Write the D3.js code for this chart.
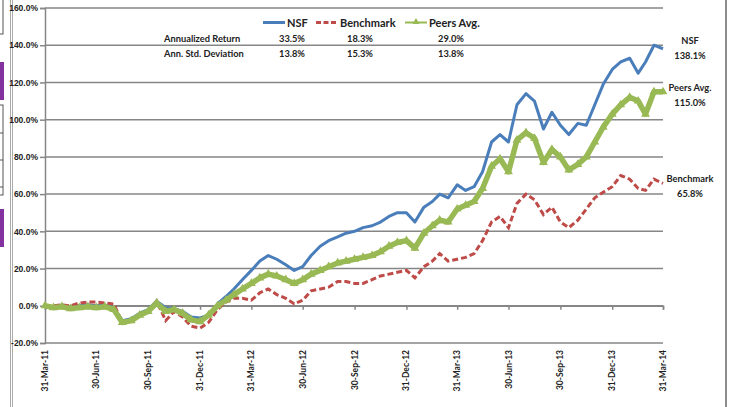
<!DOCTYPE html>
<html>
<head>
<meta charset="utf-8">
<script src="https://cdn.jsdelivr.net/npm/d3@7"></script>
<style>
  body { margin: 0; background: #fff; }
  svg { display: block; font-family: Lato, "Noto Sans", sans-serif; }
</style>
</head>
<body>
<svg id="chart" width="733" height="407"></svg>
<script>
// semimonthly observations
const dates = [
  '2011-03-31', '2011-04-15', '2011-04-30', '2011-05-15', '2011-05-31', '2011-06-15', '2011-06-30',
  '2011-07-15', '2011-07-31', '2011-08-15', '2011-08-31', '2011-09-15', '2011-09-30', '2011-10-15',
  '2011-10-31', '2011-11-15', '2011-11-30', '2011-12-15', '2011-12-31', '2012-01-15', '2012-01-31',
  '2012-02-15', '2012-02-29', '2012-03-15', '2012-03-31', '2012-04-15', '2012-04-30', '2012-05-15',
  '2012-05-31', '2012-06-15', '2012-06-30', '2012-07-15', '2012-07-31', '2012-08-15', '2012-08-31',
  '2012-09-15', '2012-09-30', '2012-10-15', '2012-10-31', '2012-11-15', '2012-11-30', '2012-12-15',
  '2012-12-31', '2013-01-15', '2013-01-31', '2013-02-15', '2013-02-28', '2013-03-15', '2013-03-31',
  '2013-04-15', '2013-04-30', '2013-05-15', '2013-05-31', '2013-06-15', '2013-06-30', '2013-07-15',
  '2013-07-31', '2013-08-15', '2013-08-31', '2013-09-15', '2013-09-30', '2013-10-15', '2013-10-31',
  '2013-11-15', '2013-11-30', '2013-12-15', '2013-12-31', '2014-01-15', '2014-01-31', '2014-02-15',
  '2014-02-28', '2014-03-15', '2014-03-31'
]

const nsf = [
  0, -0.5, 0.5, -1, 0, 0.5, 0, 0.5, -1, -8, -7, -4, -2, 2.5, -1, -1.5, -3, -6, -6.5, -5, 1,
  5, 9, 14, 19, 24, 27, 25, 22, 19, 21, 27, 32, 35, 37, 39, 40, 42, 43, 45, 48, 50,
  50, 45, 53, 56, 60, 58, 65, 62, 64, 72, 88, 92, 88, 108, 114, 110, 95, 104, 97, 92, 98,
  97, 108, 119, 127, 131, 133, 125, 131, 140, 138.1
]

const benchmark = [
  0, 0, 0.5, 0, 1.5, 2, 2, 1.5, 1, -9, -8, -5, -3, 2.5, -8, -3, -6, -11, -12, -9, -2,
  2, 4, 4, 3, 7, 9, 6, 4, 1, 3, 8, 9, 10, 13, 13, 12, 12, 14, 16, 17, 18,
  19, 15, 21, 24, 28, 24, 25, 26, 28, 35, 45, 48, 42, 55, 60, 57, 49, 53, 45, 42, 46,
  52, 58, 61, 64, 70, 68, 63, 62, 68, 65.8
]

const peers = [
  0, -1, -0.5, -1.5, -1, -0.5, -1, -0.5, -2, -9, -8, -5, -3, 1.5, -3, -2, -4, -7.5, -8.5, -5, 0,
  3, 6, 9, 12, 15, 17, 16, 14, 12, 14, 17, 19, 21, 23, 24, 25, 26, 27, 29, 32, 34,
  35, 31, 39, 43, 46, 45, 52, 54, 56, 63, 75, 79, 72, 89, 93, 90, 77, 84, 80, 73, 76,
  80, 88, 96, 103, 108, 112, 110, 103, 115, 115.0
]

const seriesNames = ['NSF', 'Benchmark', 'Peers Avg.']
const seriesColors = ['#4a7ebb', '#be4b48', '#98b954']
const annReturn = ['33.5%', '18.3%', '29.0%']
const annStdDev = ['13.8%', '15.3%', '13.8%']
const endLabels = ['138.1%', '65.8%', '115.0%']

const tickDates = [
  '2011-03-31', '2011-06-30', '2011-09-30', '2011-12-31', '2012-03-31', '2012-06-30', '2012-09-30',
  '2012-12-31', '2013-03-31', '2013-06-30', '2013-09-30', '2013-12-31', '2014-03-31'
]
const yTicks = [-20, 0, 20, 40, 60, 80, 100, 120, 140, 160]

const parse = d3.timeParse('%Y-%m-%d')
const svg = d3.select('#chart')
const grey = '#868686'

// page furniture around the chart
svg.append('rect').attr('x', -1).attr('y', -1).attr('width', 4).attr('height', 35)
  .attr('fill', '#fff').attr('stroke', '#555')
svg.append('rect').attr('x', 0).attr('y', 62).attr('width', 4).attr('height', 38).attr('fill', '#8431a0')
svg.append('rect').attr('x', -1).attr('y', 105).attr('width', 4).attr('height', 90)
  .attr('fill', '#fff').attr('stroke', '#555')
;[133, 160, 187].forEach(y => {
  svg.append('line').attr('x1', 0).attr('x2', 3).attr('y1', y).attr('y2', y).attr('stroke', '#555')
})
svg.append('rect').attr('x', 0).attr('y', 209).attr('width', 4).attr('height', 38).attr('fill', '#8431a0')
svg.append('line').attr('x1', 10.5).attr('x2', 10.5).attr('y1', 0).attr('y2', 407).attr('stroke', '#aaa')
svg.append('line').attr('x1', 12.5).attr('x2', 12.5).attr('y1', 0).attr('y2', 407).attr('stroke', '#aaa')
svg.append('line').attr('x1', 726).attr('x2', 726).attr('y1', 0).attr('y2', 407)
  .attr('stroke', '#8c8c8c').attr('stroke-width', 2)

const x = d3.scaleTime()
  .domain([parse('2011-03-31'), parse('2014-03-31')])
  .range([45, 663])
const y = d3.scaleLinear().domain([-20, 160]).range([343, 8])

// gridlines
svg.append('g').selectAll('line').data(yTicks).join('line')
  .attr('x1', 45).attr('x2', 663)
  .attr('y1', d => y(d)).attr('y2', d => y(d))
  .attr('stroke', grey).attr('stroke-width', 1.5)

// y axis
const yAxis = svg.append('g').attr('transform', 'translate(45,0)')
  .call(d3.axisLeft(y).tickValues(yTicks).tickSize(5).tickPadding(2)
    .tickFormat(d => d.toFixed(1) + '%'))
yAxis.select('.domain').attr('stroke', grey).attr('stroke-width', 1.5)
yAxis.selectAll('.tick line').attr('stroke', grey).attr('stroke-width', 1.5)
yAxis.selectAll('text').attr('font-size', 8.5).attr('font-weight', 'bold').attr('fill', '#222')

// x axis crosses at 0%, labels sit low
const xAxis = svg.append('g').attr('transform', `translate(0,${y(0)})`)
  .call(d3.axisBottom(x).tickValues(tickDates.map(parse)).tickSize(4).tickFormat(''))
xAxis.select('.domain').attr('stroke', grey).attr('stroke-width', 1.5)
xAxis.selectAll('.tick line').attr('stroke', grey).attr('stroke-width', 1.5)

const fmt = d3.timeFormat('%d-%b-%y')
svg.append('g').selectAll('text').data(tickDates.map(parse)).join('text')
  .attr('transform', d => `translate(${x(d) + 3},350) rotate(-90)`)
  .attr('text-anchor', 'end')
  .attr('font-size', 8.5).attr('font-weight', 'bold').attr('fill', '#222')
  .text(d => fmt(d))

// series
const pts = vals => vals.map((v, i) => [parse(dates[i]), v])
const line = d3.line().x(d => x(d[0])).y(d => y(d[1])).curve(d3.curveLinear)

svg.append('path').datum(pts(nsf))
  .attr('d', line).attr('fill', 'none')
  .attr('stroke', seriesColors[0]).attr('stroke-width', 3).attr('stroke-linejoin', 'round')

svg.append('path').datum(pts(benchmark))
  .attr('d', line).attr('fill', 'none')
  .attr('stroke', seriesColors[1]).attr('stroke-width', 3).attr('stroke-dasharray', '6,3')

svg.append('path').datum(pts(peers))
  .attr('d', line).attr('fill', 'none')
  .attr('stroke', seriesColors[2]).attr('stroke-width', 5.5).attr('stroke-linejoin', 'round')
svg.append('g').selectAll('path').data(pts(peers)).join('path')
  .attr('transform', d => `translate(${x(d[0])},${y(d[1])})`)
  .attr('d', d3.symbol(d3.symbolTriangle, 34))
  .attr('fill', seriesColors[2])

// legend
const legendX = [263, 316, 405]
const lg = svg.append('g')
seriesNames.forEach((name, i) => {
  const l = lg.append('line')
    .attr('x1', legendX[i]).attr('x2', legendX[i] + 22)
    .attr('y1', 22.5).attr('y2', 22.5)
    .attr('stroke', seriesColors[i]).attr('stroke-width', 3)
  if (i === 1) l.attr('stroke-dasharray', '5,2.5')
  if (i === 2) {
    l.attr('stroke-width', 2)
    lg.append('path').attr('transform', `translate(${legendX[i] + 11},22)`)
      .attr('d', d3.symbol(d3.symbolTriangle, 22)).attr('fill', seriesColors[i])
  }
  lg.append('text').attr('x', legendX[i] + 24).attr('y', 26.5)
    .attr('font-size', 11).attr('font-weight', 'bold').attr('fill', '#222')
    .text(name)
})

// stats table
const colX = [292, 360, 451]
const table = svg.append('g').attr('font-size', 9.3).attr('font-weight', 'bold').attr('fill', '#222')
table.append('text').attr('x', 164).attr('y', 42).text('Annualized Return')
table.append('text').attr('x', 164).attr('y', 57).text('Ann. Std. Deviation')
colX.forEach((cx, i) => {
  table.append('text').attr('x', cx).attr('y', 42).attr('text-anchor', 'middle').text(annReturn[i])
  table.append('text').attr('x', cx).attr('y', 57).attr('text-anchor', 'middle').text(annStdDev[i])
})

// end labels
const endY = [44, 182, 91]
const ends = svg.append('g').attr('font-size', 9.3).attr('font-weight', 'bold')
  .attr('fill', '#222').attr('text-anchor', 'middle')
seriesNames.forEach((name, i) => {
  ends.append('text').attr('x', 690).attr('y', endY[i]).text(name)
  ends.append('text').attr('x', 690).attr('y', endY[i] + 15).text(endLabels[i])
})
</script>
</body>
</html>
